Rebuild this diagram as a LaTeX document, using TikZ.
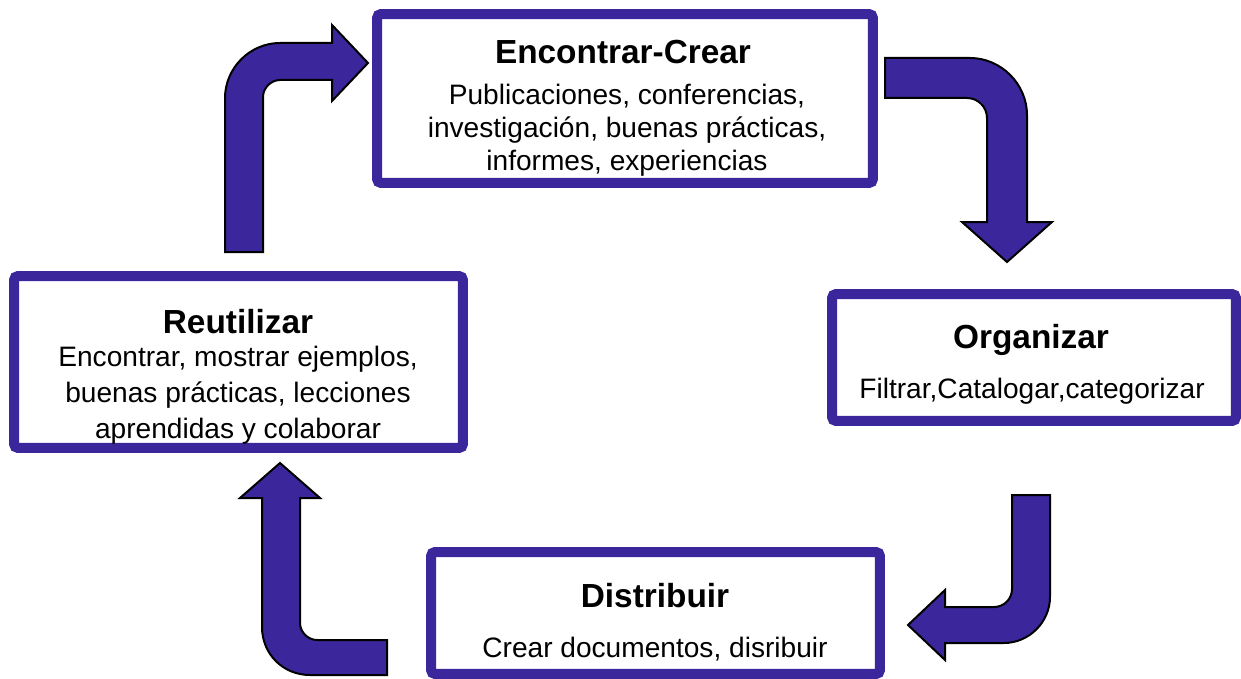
\documentclass[tikz,border=0pt]{standalone}
\usepackage{fontspec}
\setmainfont{Liberation Sans}
\usepackage{xcolor}
\usepackage{tikz}
\usetikzlibrary{positioning}
\definecolor{cyclepurple}{RGB}{59,38,156}

\begin{document}
\begin{tikzpicture}[
  x=0.02cm, y=-0.02cm,
  stagebox/.style={rectangle, rounded corners=0.08cm, draw=cyclepurple,
                   line width=0.2cm, fill=white, inner sep=0pt},
  stagetitle/.style={anchor=base, inner sep=0pt, font=\fontsize{19}{22}\selectfont\bfseries},
  stagetext/.style={anchor=base, inner sep=0pt, align=center, font=\fontsize{16}{19}\selectfont},
  blockarrow/.style={draw=black, fill=cyclepurple, line width=0.04cm},
]
  \useasboundingbox (0,0) rectangle (1241,679);

  % Boxes
  \node[stagebox, minimum width=9.92cm, minimum height=3.38cm] (find) at (625,98.5) {};
  \node[stagebox, minimum width=8.98cm, minimum height=3.44cm] (reuse) at (238.5,362) {};
  \node[stagebox, minimum width=8.08cm, minimum height=2.54cm] (org) at (1034,357.5) {};
  \node[stagebox, minimum width=8.98cm, minimum height=2.44cm] (dist) at (655.5,613) {};

  % Texts (multi-line ones sit on their last line)
  \node[stagetitle] (findT) at (623,64) {Encontrar-Crear};
  \node[stagetext] (findB) at (627,171) {Publicaciones, conferencias,\\investigación, buenas prácticas,\\informes, experiencias};
  \node[stagetitle] (reuseT) at (238,333) {Reutilizar};
  \node[stagetext] (reuseB) at (238,438) {Encontrar, mostrar ejemplos,\\[1.4pt]buenas prácticas, lecciones\\[1.4pt]aprendidas y colaborar};
  \node[stagetitle] (orgT) at (1031,348) {Organizar};
  \node[stagetext] (orgB) at (1032,398) {Filtrar,Catalogar,categorizar};
  \node[stagetitle] (distT) at (655,607) {Distribuir};
  \node[stagetext] (distB) at (655,657) {Crear documentos, disribuir};

  % Block arrows round the cycle
  \draw[blockarrow] (225,252) -- (225,98) .. controls (225,68) and (250,43) .. (280,43)
    -- (332,43) -- (332,25) -- (368,63) -- (332,101) -- (332,80) -- (280,80)
    .. controls (271,80) and (263,88) .. (263,97) -- (263,252) -- cycle;
  \draw[blockarrow] (885,58) -- (970,58) .. controls (1001,58) and (1027,84) .. (1027,115)
    -- (1027,222) -- (1052,222) -- (1007,262) -- (962,222) -- (987,222) -- (987,118)
    .. controls (987,107) and (978,98) .. (967,98) -- (885,98) -- cycle;
  \draw[blockarrow] (1012,495) -- (1050,495) -- (1050,597) .. controls (1050,622) and (1029,643) .. (1004,643)
    -- (945,643) -- (945,660) -- (908,625) -- (945,590) -- (945,607) -- (994,607)
    .. controls (1004,607) and (1012,599) .. (1012,589) -- cycle;
  \draw[blockarrow] (387,640) -- (317,640) .. controls (308,640) and (300,632) .. (300,623)
    -- (300,498) -- (320,498) -- (280,463) -- (240,498) -- (262,498) -- (262,627)
    .. controls (262,654) and (283,675) .. (310,675) -- (387,675) -- cycle;
\end{tikzpicture}
\end{document}
